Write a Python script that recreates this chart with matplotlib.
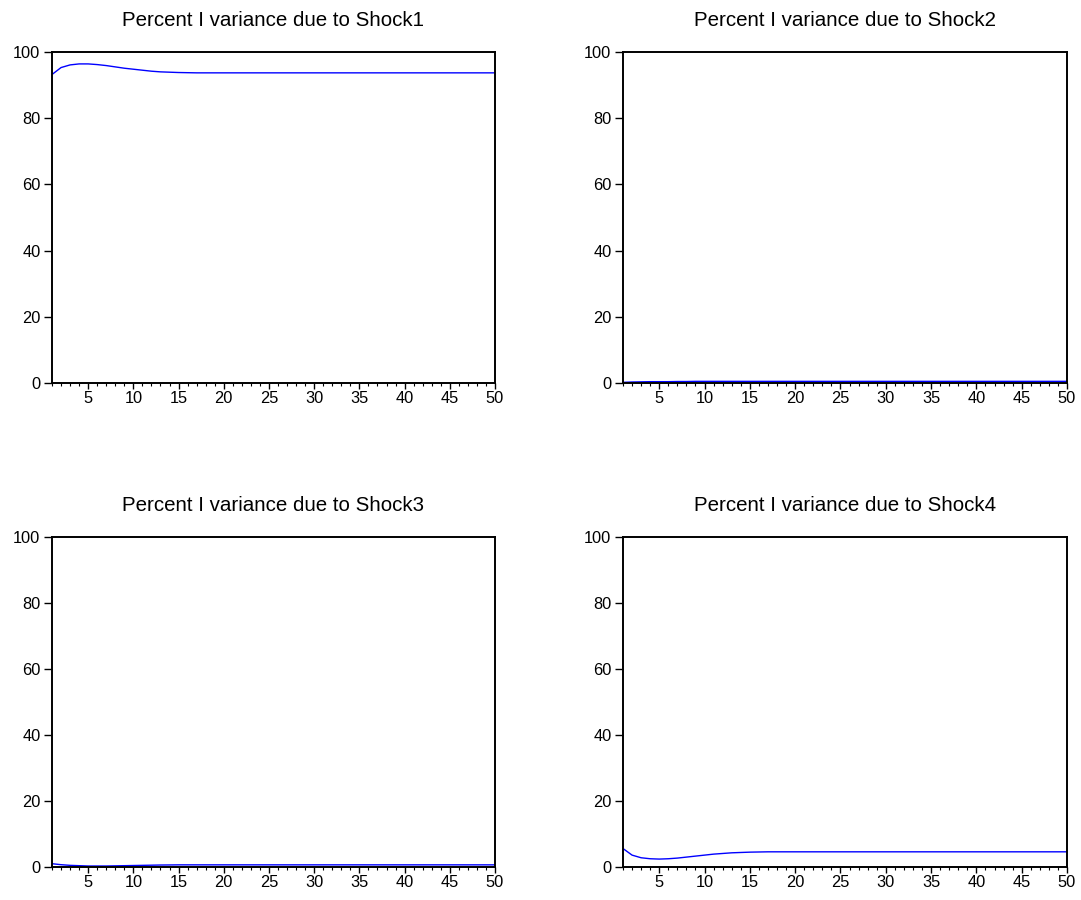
import matplotlib
matplotlib.use("Agg")
import matplotlib.pyplot as plt
from matplotlib.ticker import MultipleLocator

periods = list(range(1, 51))

shock1 = [93.2, 95.3, 96.1, 96.4, 96.4, 96.2, 95.9, 95.5, 95.1, 94.8,
          94.5, 94.2, 94.0, 93.9, 93.8, 93.75] + [93.7] * 34
shock2 = [0.2, 0.3, 0.35, 0.4, 0.4, 0.4, 0.45, 0.45, 0.5, 0.5] + [0.5] * 40
shock3 = [1.0, 0.7, 0.5, 0.4, 0.3, 0.3, 0.3, 0.35, 0.4, 0.45,
          0.5, 0.55, 0.6, 0.62, 0.65] + [0.65] * 35
shock4 = [5.6, 3.6, 2.8, 2.5, 2.4, 2.5, 2.7, 3.0, 3.3, 3.6,
          3.9, 4.1, 4.3, 4.4, 4.5, 4.55] + [4.6] * 34

titles = ["Percent I variance due to Shock1", "Percent I variance due to Shock2",
          "Percent I variance due to Shock3", "Percent I variance due to Shock4"]
series = [shock1, shock2, shock3, shock4]

plt.rcParams['font.family'] = ['Liberation Sans', 'DejaVu Sans']

fig = plt.figure(figsize=(10.81, 9.0), dpi=100)
W, H = 1081, 900
boxes = [(52, 52, 495, 383), (623, 52, 1067, 383),
         (52, 537, 495, 867), (623, 537, 1067, 867)]

for (x0, y0, x1, y1), title, ys in zip(boxes, titles, series):
    ax = fig.add_axes([x0 / W, 1 - y1 / H, (x1 - x0) / W, (y1 - y0) / H])
    ax.plot(periods, ys, color='#0000ff', linewidth=1.0)
    ax.set_xlim(1, 50)
    ax.set_ylim(0, 100)
    ax.set_yticks([0, 20, 40, 60, 80, 100])
    ax.set_xticks([5, 10, 15, 20, 25, 30, 35, 40, 45, 50])
    ax.xaxis.set_minor_locator(MultipleLocator(1))
    ax.tick_params(axis='y', which='major', direction='out', length=5.5,
                   width=1.0, labelsize=11.8, colors='black', pad=2.8)
    ax.tick_params(axis='x', which='major', direction='out', length=4.5,
                   width=1.0, labelsize=11.8, colors='black', pad=1.5)
    ax.tick_params(axis='x', which='minor', direction='out', length=2.5, width=0.8)
    for s in ax.spines.values():
        s.set_linewidth(1.4)
    ax.set_title(title, fontsize=14.8, pad=18.5)

fig.savefig("out.png", dpi=100)
